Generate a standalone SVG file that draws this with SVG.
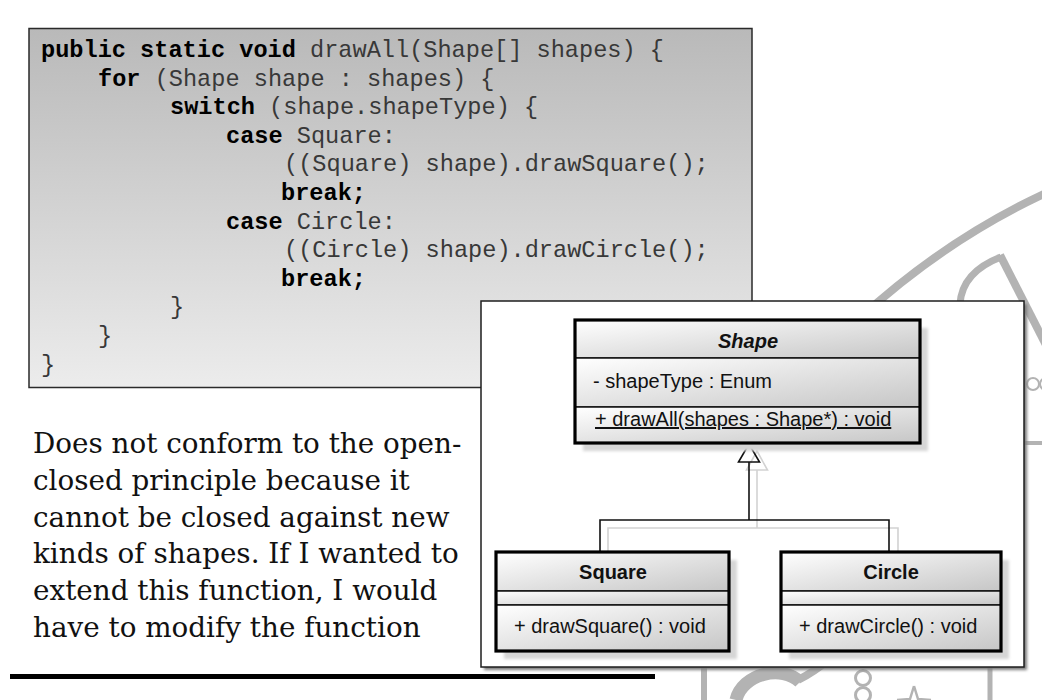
<svg xmlns="http://www.w3.org/2000/svg" width="1042" height="700" viewBox="0 0 1042 700">
  <defs>
    <linearGradient id="codeFill" x1="0" y1="0" x2="0" y2="1">
      <stop offset="0" stop-color="#b9b9b9"/>
      <stop offset="1" stop-color="#ececec"/>
    </linearGradient>
    <linearGradient id="classFill" x1="0" y1="0" x2="1" y2="1">
      <stop offset="0" stop-color="#ffffff"/>
      <stop offset="1" stop-color="#c6c6c6"/>
    </linearGradient>
    <filter id="softShadow" x="-10%" y="-10%" width="130%" height="130%">
      <feGaussianBlur stdDeviation="1.5"/>
    </filter>
    <filter id="frameShadow" x="-5%" y="-5%" width="110%" height="110%">
      <feGaussianBlur stdDeviation="1.6"/>
    </filter>
  </defs>
  <style>
    .code { font-family: "Liberation Mono", "Courier New", monospace; font-size: 23.6px; fill: #383838; white-space: pre; }
    .kw { font-weight: bold; fill: #000; }
    .note { font-family: "DejaVu Serif", "Liberation Serif", serif; font-size: 27.8px; fill: #111; }
    .uml { font-family: "Liberation Sans", Arial, sans-serif; font-size: 20px; fill: #111; }
    .title { font-weight: bold; text-anchor: middle; }
    .abstract { font-style: italic; }
    .compartment { fill: url(#classFill); stroke: #111; stroke-width: 1.5; }
    .classBorder { fill: none; stroke: #000; stroke-width: 3.2; }
    .classShadow { fill: #d6d6d6; filter: url(#softShadow); }
    .edge { fill: none; stroke: #111; stroke-width: 1.6; }
    .edgeShadow { fill: none; stroke: #d2d2d2; stroke-width: 1.6; }
    .mark { fill: none; stroke: #b3b3b3; stroke-linecap: butt; }
  </style>

  <!-- faint emblem in the background -->
  <g id="watermark">
    <path class="mark" stroke-width="8" d="M 860 318 Q 945 240 1046 193"/>
    <path class="mark" stroke-width="8" d="M 1000 255 L 1046 345"/>
    <path class="mark" stroke-width="7" d="M 1001 257 Q 962 272 960 304"/>
    <circle class="mark" stroke-width="2" cx="1033" cy="384" r="6"/>
    <circle class="mark" stroke-width="2" cx="1046" cy="384" r="6"/>
    <line class="mark" stroke-width="4" x1="1020" y1="443" x2="1042" y2="443"/>
    <line class="mark" stroke-width="6" x1="704" y1="660" x2="704" y2="700"/>
    <line class="mark" stroke-width="5" x1="990" y1="660" x2="990" y2="700"/>
    <path class="mark" stroke-width="13" d="M 736 700 C 742 674 782 664 800 682"/>
    <path class="mark" stroke-width="8" d="M 798 680 Q 814 672 828 660"/>
    <circle class="mark" stroke-width="3" cx="863" cy="678" r="7.5"/>
    <circle class="mark" stroke-width="3" cx="863" cy="695" r="7.5"/>
    <path class="mark" stroke-width="2.5" d="M 914 686 L 918 699 L 931 700 M 914 686 L 910 699 L 897 700"/>
  </g>

  <!-- source listing -->
  <g id="code-box">
    <rect x="29" y="28.5" width="723" height="359" fill="url(#codeFill)" stroke="#2a2a2a" stroke-width="1.5"/>
    <text class="code" x="41" y="57"><tspan class="kw">public static void</tspan> drawAll(Shape[] shapes) {</text>
    <text class="code" x="98" y="85.6"><tspan class="kw">for</tspan> (Shape shape : shapes) {</text>
    <text class="code" x="170" y="114.2"><tspan class="kw">switch</tspan> (shape.shapeType) {</text>
    <text class="code" x="226" y="142.8"><tspan class="kw">case</tspan> Square:</text>
    <text class="code" x="284" y="171.4">((Square) shape).drawSquare();</text>
    <text class="code kw" x="281" y="200">break;</text>
    <text class="code" x="226" y="228.6"><tspan class="kw">case</tspan> Circle:</text>
    <text class="code" x="284" y="257.2">((Circle) shape).drawCircle();</text>
    <text class="code kw" x="281" y="285.8">break;</text>
    <text class="code" x="170" y="314.4">}</text>
    <text class="code" x="98" y="343">}</text>
    <text class="code" x="41" y="371.6">}</text>
  </g>

  <!-- explanation -->
  <g id="note-text">
    <text class="note" x="33" y="453">Does not conform to the open-</text>
    <text class="note" x="33" y="490">closed principle because it</text>
    <text class="note" x="33" y="527">cannot be closed against new</text>
    <text class="note" x="33" y="563">kinds of shapes. If I wanted to</text>
    <text class="note" x="33" y="600">extend this function, I would</text>
    <text class="note" x="33" y="637">have to modify the function</text>
  </g>

  <g id="rule">
    <rect x="10" y="674" width="645" height="5" fill="#000"/>
  </g>

  <!-- class diagram panel -->
  <g id="uml-frame">
    <rect x="484" y="304" width="543" height="366" fill="#7a7a7a" filter="url(#frameShadow)"/>
    <rect x="481" y="301" width="543" height="366" fill="#ffffff" stroke="#1e1e1e" stroke-width="1.5"/>
  </g>

  <g id="connectors">
    <!-- offset shadow of the generalization -->
    <polygon class="edgeShadow" points="757,451 746.5,470 767.5,470"/>
    <polyline class="edgeShadow" points="757,470 757,528"/>
    <polyline class="edgeShadow" points="608,560 608,528 898,528 898,560"/>
    <!-- generalization: Square, Circle -> Shape -->
    <polyline class="edge" points="600,552 600,520 889,520 889,552"/>
    <line class="edge" x1="749" y1="520" x2="749" y2="462"/>
    <polygon class="edge" fill="#ffffff" points="749,444 738.5,462 759.5,462"/>
  </g>

  <g id="class-shape">
    <rect class="classShadow" x="583" y="328" width="345" height="123"/>
    <rect class="compartment" x="575" y="320" width="345" height="38"/>
    <rect class="compartment" x="575" y="358" width="345" height="49"/>
    <rect class="compartment" x="575" y="407" width="345" height="36"/>
    <rect class="classBorder" x="575" y="320" width="345" height="123"/>
    <text class="uml title abstract" x="748" y="348">Shape</text>
    <text class="uml" x="593" y="388">- shapeType : Enum</text>
    <text class="uml" x="595" y="426" text-decoration="underline">+ drawAll(shapes : Shape*) : void</text>
  </g>

  <g id="class-square">
    <rect class="classShadow" x="504" y="560" width="233" height="99"/>
    <rect class="compartment" x="496" y="552" width="233" height="39"/>
    <rect class="compartment" x="496" y="591" width="233" height="14"/>
    <rect class="compartment" x="496" y="605" width="233" height="46"/>
    <rect class="classBorder" x="496" y="552" width="233" height="99"/>
    <text class="uml title" x="613" y="579">Square</text>
    <text class="uml" x="514" y="633">+ drawSquare() : void</text>
  </g>

  <g id="class-circle">
    <rect class="classShadow" x="789" y="560" width="220" height="99"/>
    <rect class="compartment" x="781" y="552" width="220" height="39"/>
    <rect class="compartment" x="781" y="591" width="220" height="14"/>
    <rect class="compartment" x="781" y="605" width="220" height="46"/>
    <rect class="classBorder" x="781" y="552" width="220" height="99"/>
    <text class="uml title" x="891" y="579">Circle</text>
    <text class="uml" x="799" y="633">+ drawCircle() : void</text>
  </g>
</svg>
